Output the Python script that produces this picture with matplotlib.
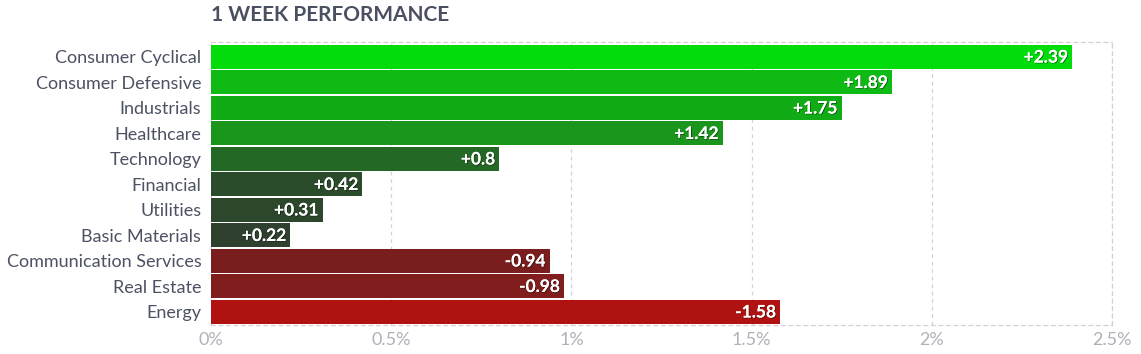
import matplotlib
matplotlib.use("Agg")
import matplotlib.pyplot as plt
import matplotlib.patheffects as pe
from matplotlib.ticker import FuncFormatter

categories = ["Consumer Cyclical", "Consumer Defensive", "Industrials", "Healthcare",
              "Technology", "Financial", "Utilities", "Basic Materials",
              "Communication Services", "Real Estate", "Energy"]
values = [2.39, 1.89, 1.75, 1.42, 0.8, 0.42, 0.31, 0.22, -0.94, -0.98, -1.58]
colors = ["#02dc0b", "#0fba15", "#11ab15", "#1a961d", "#236824", "#2a4c2a",
          "#2c472c", "#2f402f", "#7a1d1e", "#801e1e", "#b01111"]
xticks = [0, 0.5, 1, 1.5, 2, 2.5]

plt.rcParams['font.family'] = ['Lato', 'DejaVu Sans']

fig = plt.figure(figsize=(11.41, 3.54), dpi=100)
ax = fig.add_axes([211/1141, 1-325/354, (1112-211)/1141, (325-42)/354])

ypos = list(range(len(categories)))
mags = [abs(v) for v in values]
ax.barh(ypos, mags, height=0.93, color=colors, zorder=3)

for y, v, m in zip(ypos, values, mags):
    txt = f"+{v:g}" if v > 0 else f"{v:g}"
    ax.text(m - 0.012, y + 0.03, txt, ha='right', va='center', color='white',
            fontsize=12.5, fontweight='bold', zorder=4,
            path_effects=[pe.withSimplePatchShadow(offset=(0.6, -0.6), shadow_rgbFace='black', alpha=0.5), pe.Normal()])

ax.set_xlim(0, 2.5)
ax.set_ylim(10.52, -0.58)
ax.set_yticks(ypos)
ax.set_yticklabels(categories, fontsize=13, color='#4c5263')
ax.set_xticks(xticks)
ax.xaxis.set_major_formatter(FuncFormatter(lambda x, p: f"{x:g}%"))
ax.tick_params(axis='x', colors='#b4b4bc', labelsize=13, length=0, pad=5)
ax.tick_params(axis='y', length=0, pad=7)
for lab in ax.get_xticklabels():
    lab.set_color('#b0b0b8')

ax.grid(axis='x', color='#d2d2d2', linestyle=(0, (3, 3)), linewidth=0.9, zorder=0)
for side in ['top', 'bottom', 'right']:
    ax.spines[side].set_color('#d2d2d2')
    ax.spines[side].set_linestyle((0, (3, 3)))
    ax.spines[side].set_linewidth(0.9)
ax.spines['left'].set_visible(False)

fig.text(211/1141, 1-15/354, "1 WEEK PERFORMANCE", ha='left', va='center',
         fontsize=15, fontweight='bold', color='#4a5061')

fig.savefig("out.png", dpi=100)
